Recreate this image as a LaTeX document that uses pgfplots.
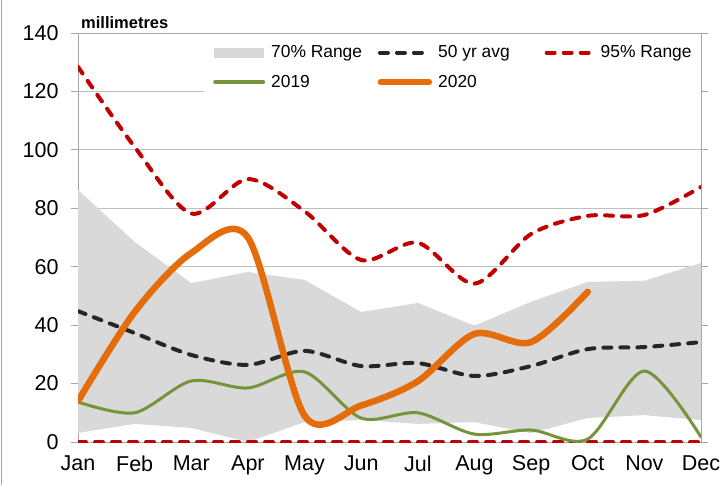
\documentclass[border=0pt]{standalone}
\usepackage{pgfplots}
\pgfplotsset{compat=1.18}
\usepgfplotslibrary{fillbetween}
\usepackage{fontspec}
\setmainfont{Liberation Sans}
\definecolor{band}{HTML}{D9D9D9}
\definecolor{redline}{HTML}{C00000}
\definecolor{avgline}{HTML}{262626}
\definecolor{greenline}{HTML}{77933C}
\definecolor{orangeline}{HTML}{E46C0A}
\definecolor{axisgray}{HTML}{A6A6A6}
\definecolor{gridgray}{HTML}{BFBFBF}
\pgfplotsset{
  dashleg/.style={legend image code/.code={\draw[##1] (2pt,0pt) -- (48pt,0pt);}},
  greenleg/.style={legend image code/.code={\draw[##1, line width=4pt] (1pt,0pt) -- (49pt,0pt);}},
  orangeleg/.style={legend image code/.code={\draw[##1] (3pt,0pt) -- (51pt,0pt);}},
  bandleg/.style={legend image code/.code={\fill[band] (0pt,-5pt) rectangle (50pt,5pt);}},
}
\begin{document}
\begin{tikzpicture}
\begin{axis}[
  scale only axis, width=623pt, height=409pt,
  xmin=0, xmax=11, ymin=0, ymax=140,
  xtick={0,...,11},
  xticklabels={Jan,Feb,Mar,Apr,May,Jun,Jul,Aug,Sep,Oct,Nov,Dec},
  ytick={0,20,...,140},
  /pgf/number format/assume math mode=true,
  ymajorgrids,
  major grid style={draw=gridgray, line width=0.9pt},
  axis line style={draw=axisgray, line width=0.9pt},
  tick align=outside,
  major tick length=7pt,
  ytick style={draw=axisgray, line width=0.9pt},
  xtick style={draw=none},
  ticklabel style={font=\fontsize{21.5}{24}\selectfont, text=black},
  yticklabel style={xshift=-9pt},
  xticklabel style={yshift=-3pt},
  legend columns=3,
  legend cell align=left,
  legend style={at={(0.2022,1)}, anchor=north west, yshift=-1.5pt,
    draw=none, fill=white, inner xsep=9pt, inner ysep=11pt,
    font=\fontsize{17.4}{20}\selectfont, row sep=16pt, column sep=0pt,
    nodes={inner xsep=0pt, inner ysep=0pt},
    /tikz/every odd column/.append style={column sep=6pt}},
]
% 70% range band
\addplot[name path=up, draw=none, forget plot] coordinates {
 (0,86.3) (1,68.5) (2,54.4) (3,58.2) (4,55.5) (5,44.5) (6,47.6) (7,39.8) (8,48) (9,54.8) (10,55.2) (11,61.3)};
\addplot[name path=lo, draw=none, forget plot] coordinates {
 (0,3.1) (1,6.2) (2,4.8) (3,0) (4,6.8) (5,7.5) (6,6.2) (7,6.8) (8,3) (9,8.2) (10,9.2) (11,7.5)};
\addplot[fill=band, draw=none, bandleg] fill between[of=up and lo];
\addlegendentry{\makebox[106.5pt][l]{70\% Range}}
% 50 yr avg
\addplot[avgline, line width=4pt, smooth, line cap=round, dash pattern=on 8pt off 9pt, dashleg] coordinates {
 (0,44.8) (1,37.3) (2,29.8) (3,26.4) (4,31.2) (5,26) (6,27) (7,22.6) (8,26) (9,31.8) (10,32.5) (11,34.2)};
\addlegendentry{\makebox[106.5pt][l]{50 yr avg}}
% 95% range
\addplot[redline, line width=4pt, smooth, line cap=round, dash pattern=on 8pt off 9pt, dashleg] coordinates {
 (0,128.4) (1,101) (2,78.2) (3,90) (4,79) (5,62.3) (6,68.2) (7,54.2) (8,71.2) (9,77.4) (10,77.7) (11,87.3)};
\addlegendentry{95\% Range}
\addplot[redline, line width=4pt, line cap=round, dash pattern=on 8pt off 9pt, forget plot] coordinates {
 (0,0) (11,0)};
% 2019
\addplot[greenline, line width=3pt, smooth, line cap=round, greenleg] coordinates {
 (0,13.7) (1,10) (2,20.9) (3,18.5) (4,24) (5,8.2) (6,10) (7,2.7) (8,4.1) (9,1) (10,24.3) (11,1.7)};
\addlegendentry{\makebox[106.5pt][l]{2019}}
% 2020
\addplot[orangeline, line width=6.5pt, smooth, line cap=round, orangeleg] coordinates {
 (0,14) (1,44.5) (2,64.7) (3,70) (4,9) (5,12.5) (6,20.8) (7,37) (8,34.2) (9,51.4)};
\addlegendentry{2020}
\end{axis}
\node[anchor=base west, inner sep=0pt, font=\bfseries\fontsize{16.5}{18}\selectfont]
  at ([xshift=3pt, yshift=4pt]current axis.north west) {millimetres};
\draw[axisgray, line width=1pt] ([xshift=-76pt,yshift=-43pt]current axis.south west) -- ([xshift=-76pt,yshift=33pt]current axis.north west);
\pgfresetboundingbox
\path[use as bounding box] ([xshift=-78pt,yshift=-43pt]current axis.south west) rectangle ([xshift=24pt,yshift=33pt]current axis.north east);
\end{tikzpicture}
\end{document}
